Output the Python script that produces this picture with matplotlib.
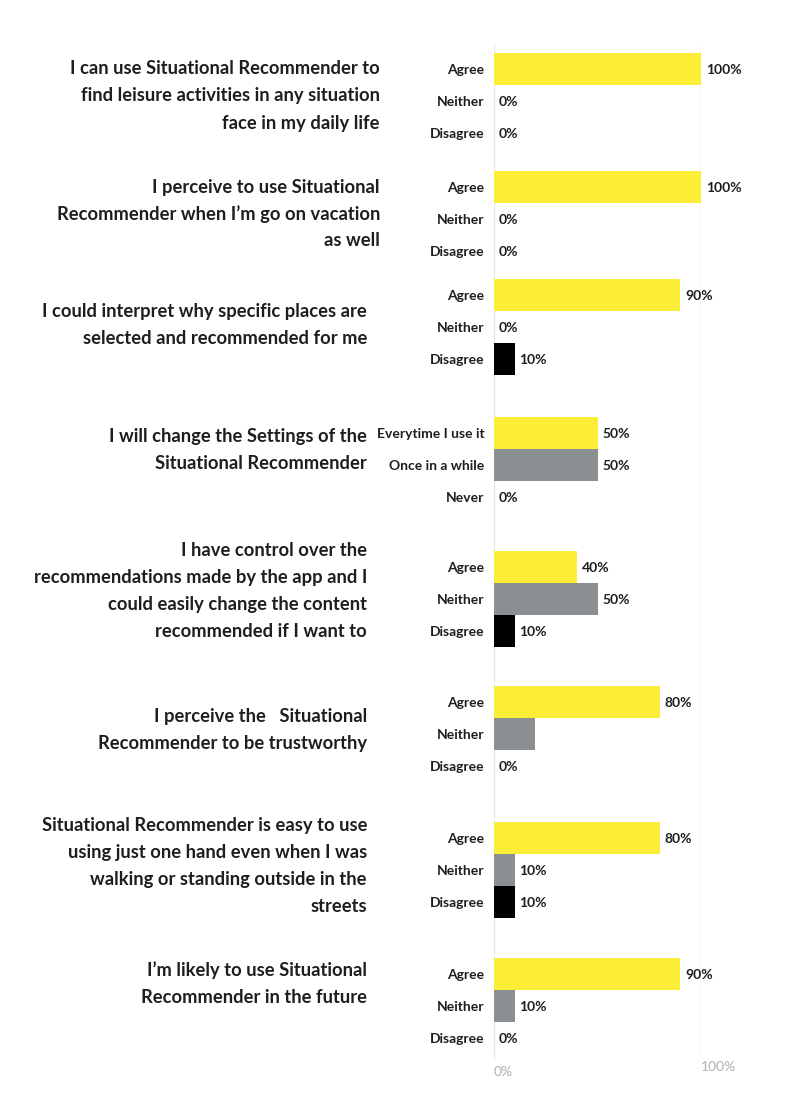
import matplotlib.pyplot as plt
import matplotlib.transforms as mtransforms

plt.rcParams['font.family'] = ['Lato', 'DejaVu Sans']

# survey statements
questions = [
    "I can use Situational Recommender to\nfind leisure activities in any situation\nface in my daily life",
    "I perceive to use Situational\nRecommender when I\u2019m go on vacation\nas well",
    "I could interpret why specific places are\nselected and recommended for me",
    "I will change the Settings of the\nSituational Recommender",
    "I have control over the\nrecommendations made by the app and I\ncould easily change the content\nrecommended if I want to",
    "I perceive the   Situational\nRecommender to be trustworthy",
    "Situational Recommender is easy to use\nusing just one hand even when I was\nwalking or standing outside in the\nstreets",
    "I\u2019m likely to use Situational\nRecommender in the future",
]

answers_std = ["Agree", "Neither", "Disagree"]
answers_freq = ["Everytime I use it", "Once in a while", "Never"]
answer_sets = [answers_std, answers_std, answers_std, answers_freq,
               answers_std, answers_std, answers_std, answers_std]

# percentages per answer (first, middle, last)
first_vals = [100, 100, 90, 50, 40, 80, 80, 90]
middle_vals = [0, 0, 0, 50, 50, 20, 10, 10]
last_vals = [0, 0, 10, 0, 10, 0, 10, 0]

# the 20% bar in the "trustworthy" block carries no value label
middle_labelled = [True, True, True, True, True, False, True, True]

# layout (pixel coordinates of the original picture)
W, H = 787, 1093
group_top = [69, 187, 295, 433, 567, 702, 838, 974]
row_step = 32
q_right = [380, 380, 367, 367, 367, 367, 367, 367]
q_center = [96, 214, 325, 450, 591, 730, 866, 984]
line_gap = 27

colors = ['#fcee37', '#8c8f91', '#000000']
text_color = '#1e1e1e'

fig = plt.figure(figsize=(W / 100, H / 100), dpi=100)
ax = fig.add_axes([494 / W, 0, 207 / W, 1])
ax.set_xlim(0, 100)
ax.set_ylim(H, 0)
for s in ax.spines.values():
    s.set_visible(False)

# light vertical grid at 0 and 100
ax.vlines([0, 100], 45, 1058, color='#e8e8e8', lw=1, zorder=0)

ticks, tick_labels = [], []
for g in range(len(questions)):
    vals = [first_vals[g], middle_vals[g], last_vals[g]]
    show = [True, middle_labelled[g], True]
    for r in range(3):
        y = group_top[g] + r * row_step
        ax.barh(y, vals[r], height=row_step, color=colors[r], zorder=2)
        ticks.append(y)
        tick_labels.append(answer_sets[g][r])
        if show[r]:
            ax.annotate(f"{vals[r]}%", (vals[r], y + 1), xytext=(3.5, 0),
                        textcoords='offset points', ha='left', va='center',
                        fontsize=10, fontweight='bold', color=text_color)

ax.set_yticks(ticks)
ax.set_yticklabels(tick_labels, fontsize=10, fontweight='bold', color=text_color)
ax.tick_params(axis='y', length=0, pad=7)
ax.set_xticks([])

# axis end labels
ax.text(0, 1072, "0%", ha='left', va='center', fontsize=10, color='#b0b0b0')
ax.text(100, 1067, "100%", ha='left', va='center', fontsize=10, color='#b0b0b0')

# statement text, right aligned left of the bars
trans = mtransforms.blended_transform_factory(fig.transFigure, ax.transData)
for g, q in enumerate(questions):
    lines = q.split("\n")
    n = len(lines)
    for i, line in enumerate(lines):
        y = q_center[g] + (i - (n - 1) / 2) * line_gap
        ax.text(q_right[g] / W, y, line, transform=trans, ha='right', va='center',
                fontsize=13.2, fontweight='bold', color=text_color)

fig.savefig('out.png', dpi=100)
